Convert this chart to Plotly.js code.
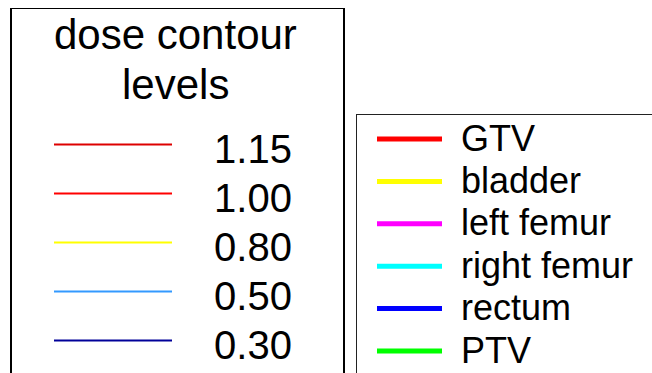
<!DOCTYPE html>
<html>
<head>
<meta charset="utf-8">
<script src="https://cdn.plot.ly/plotly-3.0.1.min.js"></script>
<style>
  html, body { margin: 0; padding: 0; background: #ffffff; }
  #chart { width: 652px; height: 373px; }
</style>
</head>
<body>
<div id="chart"></div>
<script>
// Dose contour levels key
const doseTitleLines = ['dose contour', 'levels'];
const doseLevels = ['1.15', '1.00', '0.80', '0.50', '0.30'];
const doseColors = ['#dd0000', '#ff0000', '#ffff00', '#3399ff', '#000099'];

// Structure outline key
const structures = ['GTV', 'bladder', 'left femur', 'right femur', 'rectum', 'PTV'];
const structureColors = ['#ff0000', '#ffff00', '#ff00ff', '#00ffff', '#0000ff', '#00ff00'];

const W = 652, H = 373;
const FONT = 'Liberation Sans, Arial, Helvetica, sans-serif';

// Each key box is a subplot whose axis units are pixels inside the box.
const box1 = { left: 12, right: 343, top: 9 };
const box2 = { left: 357, right: 652, top: 115 };
const b1w = box1.right - box1.left, b1h = H - box1.top;
const b2w = box2.right - box2.left, b2h = H - box2.top;

// row layout inside each box
const dose = { row0: 135.5, gap: 49, x0: 42, x1: 160, labelX: 241, labelDy: 8 };
const struct = { row0: 24, gap: 42.4, x0: 20, x1: 85, labelX: 104, labelDy: 2.5 };

const traces = [];

doseLevels.forEach((lvl, i) => {
  const y = dose.row0 + i * dose.gap;
  traces.push({
    type: 'scatter', mode: 'lines', xaxis: 'x', yaxis: 'y',
    x: [dose.x0, dose.x1], y: [y, y],
    line: { color: doseColors[i], width: 2 },
    showlegend: false, hoverinfo: 'skip'
  });
});
traces.push({
  type: 'scatter', mode: 'text', xaxis: 'x', yaxis: 'y',
  x: doseLevels.map(() => dose.labelX),
  y: doseLevels.map((_, i) => dose.row0 + i * dose.gap + dose.labelDy),
  text: doseLevels,
  textposition: 'middle center',
  textfont: { family: FONT, size: 40, color: '#000000' },
  showlegend: false, hoverinfo: 'skip'
});

structures.forEach((s, i) => {
  const y = struct.row0 + i * struct.gap;
  traces.push({
    type: 'scatter', mode: 'lines', xaxis: 'x2', yaxis: 'y2',
    x: [struct.x0, struct.x1], y: [y, y],
    line: { color: structureColors[i], width: 5 },
    showlegend: false, hoverinfo: 'skip'
  });
});
traces.push({
  type: 'scatter', mode: 'text', xaxis: 'x2', yaxis: 'y2',
  x: structures.map(() => struct.labelX),
  y: structures.map((_, i) => struct.row0 + i * struct.gap + struct.labelDy),
  text: structures,
  textposition: 'middle right',
  textfont: { family: FONT, size: 36, color: '#000000' },
  showlegend: false, hoverinfo: 'skip'
});

const hidden = { showgrid: false, zeroline: false, showticklabels: false, ticks: '', fixedrange: true };

const layout = {
  width: W, height: H,
  margin: { l: 0, r: 0, t: 0, b: 0, pad: 0 },
  paper_bgcolor: '#ffffff', plot_bgcolor: '#ffffff',
  showlegend: false, hovermode: false,
  xaxis: Object.assign({}, hidden, {
    domain: [box1.left / W, box1.right / W], range: [0, b1w],
    showline: true, side: 'top', linecolor: '#000000', linewidth: 1.5, mirror: false
  }),
  yaxis: Object.assign({}, hidden, {
    domain: [0, 1 - box1.top / H], range: [b1h, 0],
    showline: true, mirror: true, linecolor: '#000000', linewidth: 2
  }),
  xaxis2: Object.assign({}, hidden, {
    domain: [box2.left / W, box2.right / W], range: [0, b2w], anchor: 'y2',
    showline: true, side: 'top', linecolor: '#222222', linewidth: 1.5, mirror: false
  }),
  yaxis2: Object.assign({}, hidden, {
    domain: [0, 1 - box2.top / H], range: [b2h, 0], anchor: 'x2',
    showline: true, mirror: false, linecolor: '#222222', linewidth: 1.5
  }),
  annotations: doseTitleLines.map((t, i) => ({
    xref: 'x', yref: 'y', x: 163, y: 25 + i * 50,
    text: t, showarrow: false, xanchor: 'center', yanchor: 'middle',
    font: { family: FONT, size: 42, color: '#000000' }
  }))
};

Plotly.newPlot('chart', traces, layout, { staticPlot: true, displayModeBar: false });
</script>
</body>
</html>
